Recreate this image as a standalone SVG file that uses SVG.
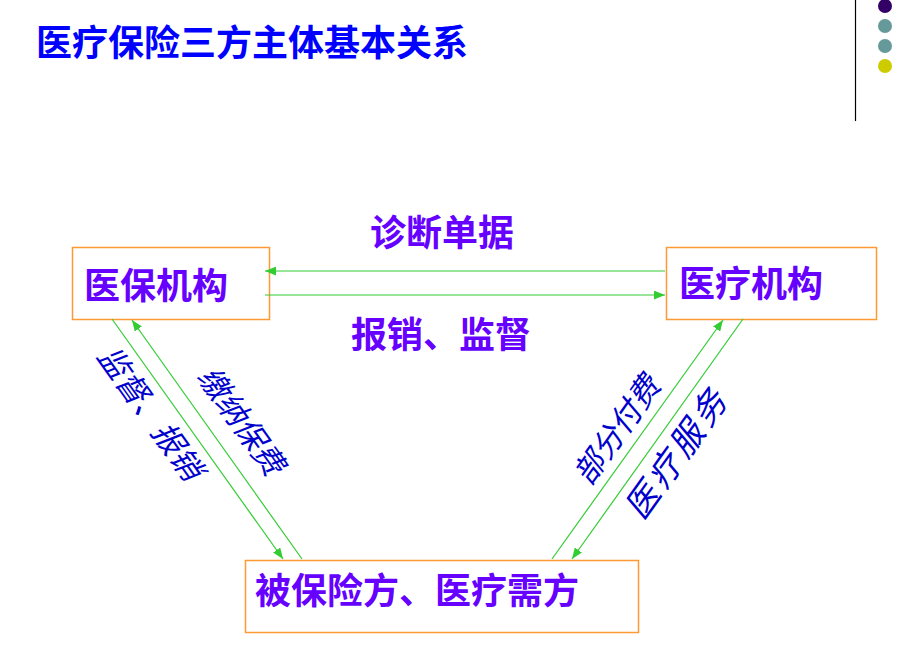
<svg xmlns="http://www.w3.org/2000/svg" width="898" height="658" viewBox="0 0 898 658">
<defs>
<marker id="ah" viewBox="0 0 10 8" refX="10" refY="4" markerWidth="11" markerHeight="9" markerUnits="userSpaceOnUse" orient="auto">
<path d="M0,0 L10,4 L0,8 Z" fill="#33cc33"/>
</marker>
<style>
.cjk{font-family:"Noto Sans CJK SC","Noto Sans CJK TC",sans-serif}
.title{font-size:36px;font-weight:bold;fill:#0000ff}
.node rect{fill:#ffffff;stroke:#ff9933;stroke-width:1.5}
.nt{font-size:36px;font-weight:bold;fill:#6600ff}
.el{font-size:31px;font-style:italic;fill:#0000cc}
.conn line{stroke:#33cc33;stroke-width:1.2;marker-end:url(#ah)}
</style>
</defs>
<rect width="898" height="658" fill="#ffffff"/>
<text class="cjk title" x="36" y="56">医疗保险三方主体基本关系</text>
<g id="decor">
<line x1="855.5" y1="0" x2="855.5" y2="121" stroke="#000000" stroke-width="1.2"/>
<circle cx="885" cy="6" r="7" fill="#330066"/>
<circle cx="885" cy="26" r="7" fill="#669999"/>
<circle cx="885" cy="46" r="7" fill="#669999"/>
<circle cx="885" cy="66" r="7" fill="#cccc00"/>
</g>
<g id="node-insurer" class="node">
<rect x="72.5" y="247.5" width="197" height="72"/>
<text class="cjk nt" x="84" y="299">医保机构</text>
</g>
<g id="node-hospital" class="node">
<rect x="666.5" y="247.5" width="210" height="72"/>
<text class="cjk nt" x="679" y="297">医疗机构</text>
</g>
<g id="node-insured" class="node">
<rect x="245.5" y="560.5" width="393" height="72"/>
<text class="cjk nt" x="255" y="604">被保险方、医疗需方</text>
</g>
<g id="connectors" class="conn">
<line x1="665" y1="271" x2="265" y2="271"/>
<line x1="265" y1="295" x2="665" y2="295"/>
<line x1="112" y1="319" x2="283" y2="559"/>
<line x1="302" y1="559" x2="132" y2="320"/>
<line x1="552" y1="559" x2="723" y2="320"/>
<line x1="743" y1="319" x2="572" y2="559"/>
</g>
<g id="labels">
<text class="cjk nt" x="370" y="246">诊断单据</text>
<text class="cjk nt" x="351" y="348">报销、监督</text>
<text class="cjk el" text-anchor="middle" dy="0.35em" transform="translate(150,413) rotate(54.5)">监督、报销</text>
<text class="cjk el" text-anchor="middle" dy="0.35em" transform="translate(241,421) rotate(54.5)">缴纳保费</text>
<text class="cjk el" text-anchor="middle" dy="0.35em" transform="translate(617,430) rotate(-54.5)">部分付费</text>
<text class="cjk el" text-anchor="middle" dy="0.35em" style="font-size:34px;letter-spacing:4px" transform="translate(677,453) rotate(-54.5)">医疗服务</text>
</g>
</svg>
